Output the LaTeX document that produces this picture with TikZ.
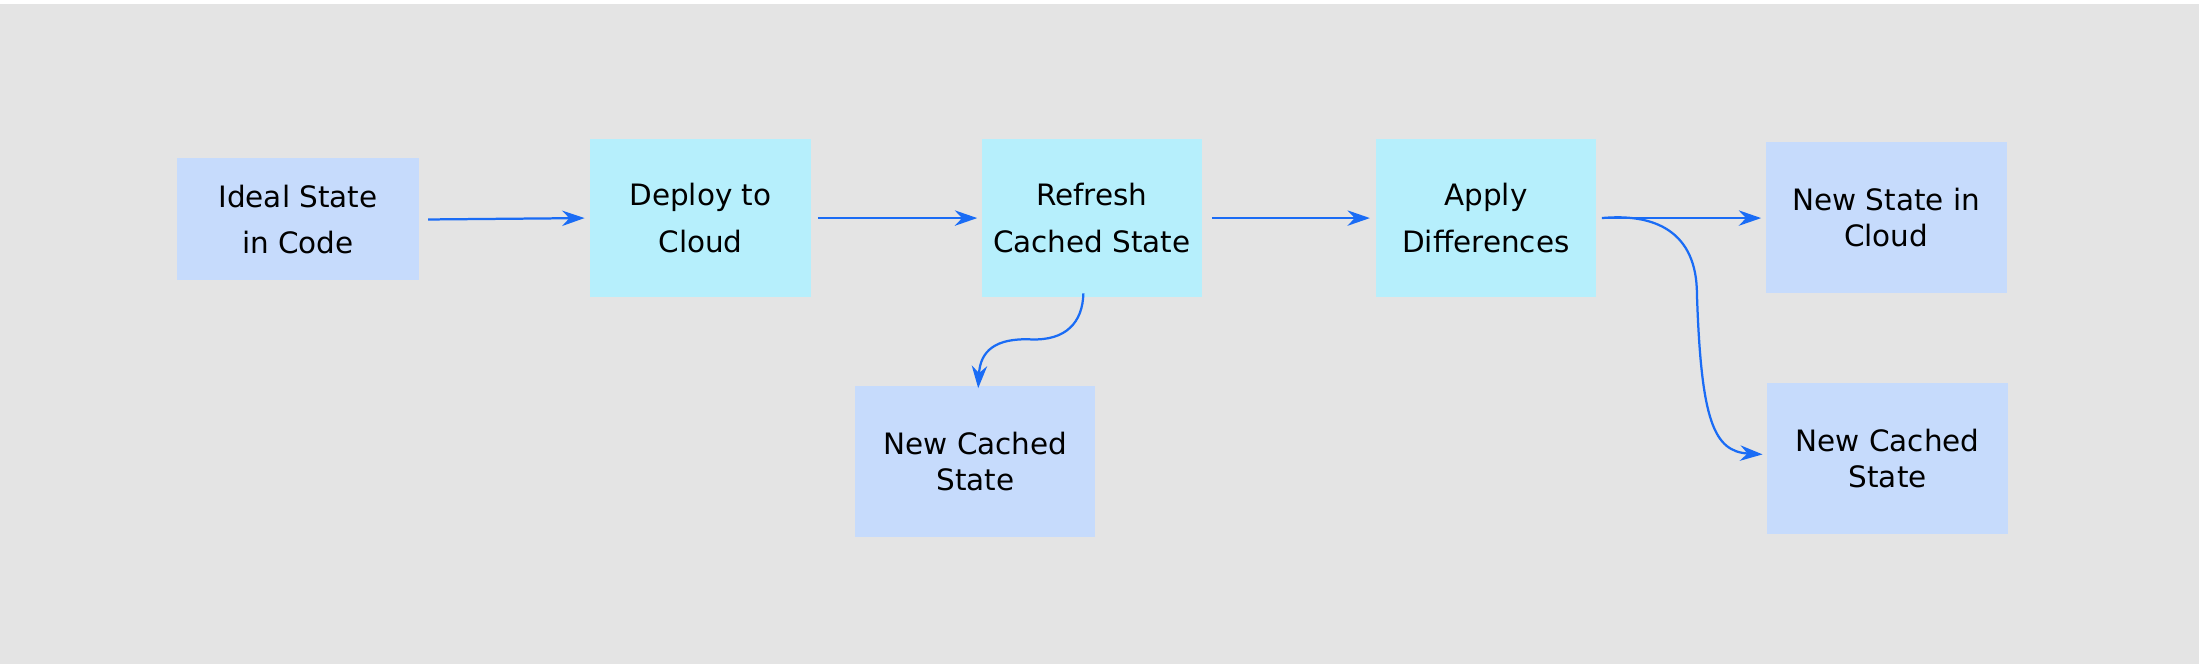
\documentclass[tikz,border=0pt]{standalone}
\usepackage{fontspec}
\setmainfont{DejaVu Sans}
\usetikzlibrary{arrows.meta}
\definecolor{bgc}{HTML}{E4E4E4}
\definecolor{bluebox}{HTML}{C6DBFC}
\definecolor{cyanbox}{HTML}{B6EFFC}
\definecolor{arr}{HTML}{1A6CF5}
\begin{document}
\begin{tikzpicture}[x=1pt,y=-1pt,
  box/.style={draw=none,inner sep=0pt,align=center,minimum width=#1},
  tall/.style={font=\fontsize{21}{33}\selectfont},
  short/.style={font=\fontsize{21}{26}\selectfont},
  conn/.style={draw=arr,line width=1.6pt,-{Stealth[length=16pt,width=11pt]}}]
\useasboundingbox (0,0) rectangle (1568,473.5);
\fill[white] (0,0) rectangle (1568,473.5);
\fill[bgc] (0,3) rectangle (1568,473.5);
\node[box=173pt,minimum height=87pt,fill=bluebox,tall] (a) at (212.5,156.5) {Ideal State\\in Code};
\node[box=157pt,minimum height=113pt,fill=cyanbox,tall] (b) at (499.5,155.5) {Deploy to\\Cloud};
\node[box=157pt,minimum height=113pt,fill=cyanbox,tall] (c) at (778.5,155.5) {Refresh\\Cached State};
\node[box=157pt,minimum height=113pt,fill=cyanbox,tall] (d) at (1059.5,155.5) {Apply\\Differences};
\node[box=172pt,minimum height=108pt,fill=bluebox,short] (e) at (1345,155) {New State in\\Cloud};
\node[box=171pt,minimum height=108pt,fill=bluebox,short] (f) at (695.5,329) {New Cached\\State};
\node[box=172pt,minimum height=108pt,fill=bluebox,short] (g) at (1346,327) {New Cached\\State};
\draw[conn] ([xshift=6pt]a.east) -- ([xshift=-4pt]b.west);
\draw[conn] ([xshift=5pt]b.east) -- ([xshift=-3pt]c.west);
\draw[conn] ([xshift=7pt]c.east) -- ([xshift=-4pt]d.west);
\draw[conn] ([xshift=4pt]d.east) -- ([xshift=-3pt,yshift=-0.5pt]e.west);
\draw[conn] ([xshift=4pt]d.east) .. controls (1180,152) and (1210,165) .. (1210,210)
  .. controls (1213,300) and (1222,322) .. ([xshift=-3pt,yshift=3pt]g.west);
\draw[conn] ([yshift=3pt,xshift=-6pt]c.south) .. controls (772,230) and (760,243) .. (735,242)
  .. controls (710,241) and (699,250) .. ([xshift=2pt,yshift=-2pt]f.north);
\end{tikzpicture}
\end{document}
